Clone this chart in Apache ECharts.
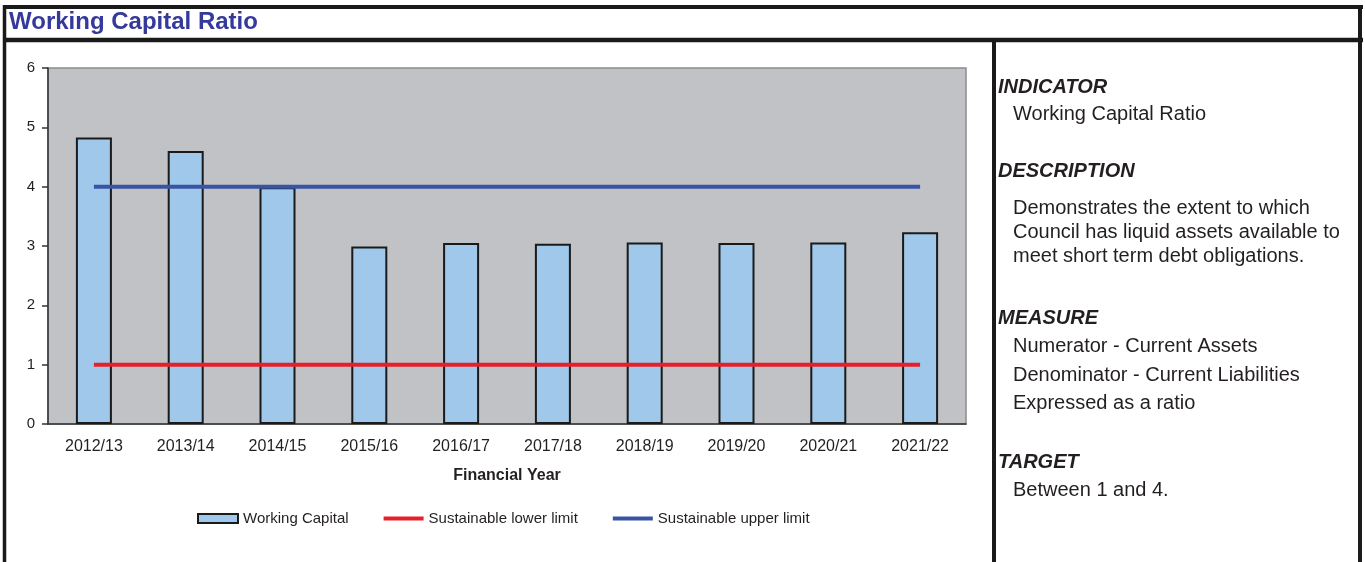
<!DOCTYPE html>
<html>
<head>
<meta charset="utf-8">
<script src="https://cdn.jsdelivr.net/npm/echarts@6/dist/echarts.min.js"></script>
<style>
html,body{margin:0;padding:0;background:#fff;}
#chart{width:1365px;height:562px;}
</style>
</head>
<body>
<div id="chart"></div>
<script>
const categories = ['2012/13','2013/14','2014/15','2015/16','2016/17','2017/18','2018/19','2019/20','2020/21','2021/22'];
const workingCapital = [4.83, 4.60, 3.99, 2.99, 3.05, 3.04, 3.06, 3.05, 3.06, 3.23];
const lowerLimit = [1,1,1,1,1,1,1,1,1,1];
const upperLimit = [4,4,4,4,4,4,4,4,4,4];
const yTicks = [0, 6, 1];
const panelHeadings = ['INDICATOR','DESCRIPTION','MEASURE','TARGET'];
const panelBodies = [
  ['Working Capital Ratio'],
  ['Demonstrates the extent to which','Council has liquid assets available to','meet short term debt obligations.'],
  ['Numerator - Current Assets','Denominator - Current Liabilities','Expressed as a ratio'],
  ['Between 1 and 4.']
];

const FONT = '"Liberation Sans", Arial, Helvetica, sans-serif';
const headY = [87, 171, 318, 462];
const bodyY = [[114],[208,232,256],[346,375,403],[490]];

const graphics = [];
const border = (x1,y1,x2,y2,w)=>({type:'line',shape:{x1,y1,x2,y2},style:{stroke:'#1a1a1a',lineWidth:w},z:100});
graphics.push(border(3,7,1363,7,4));
graphics.push(border(4.5,5,4.5,562,3.5));
graphics.push(border(3,40,1363,40,4.5));
graphics.push(border(994,40,994,562,4));
graphics.push(border(1360,5,1360,562,4));
panelHeadings.forEach((h,i)=>{
  graphics.push({type:'text',style:{x:998,y:headY[i],text:h,font:'italic bold 20px '+FONT,fill:'#231f20',textVerticalAlign:'middle'}});
  panelBodies[i].forEach((t,j)=>{
    graphics.push({type:'text',style:{x:1013,y:bodyY[i][j],text:t,font:'20px '+FONT,fill:'#231f20',textVerticalAlign:'middle'}});
  });
});

const chart = echarts.init(document.getElementById('chart'));
chart.setOption({
  backgroundColor:'#ffffff',
  animation:false,
  textStyle:{fontFamily:FONT},
  title:{text:'Working Capital Ratio',left:4,top:5,textStyle:{color:'#35399b',fontSize:24,fontWeight:'bold',fontFamily:FONT}},
  grid:{left:48,right:399,top:68,bottom:138,show:true,backgroundColor:'#c1c2c6',borderColor:'#8c8c8c',borderWidth:1.5},
  legend:{
    left:192, top:506, itemGap:33, itemWidth:40, itemHeight:9,
    textStyle:{fontSize:15,color:'#231f20',fontFamily:FONT},
    data:[
      {name:'Working Capital',icon:'rect'},
      {name:'Sustainable lower limit',itemStyle:{opacity:0},lineStyle:{width:4}},
      {name:'Sustainable upper limit',itemStyle:{opacity:0},lineStyle:{width:4}}
    ]
  },
  xAxis:{
    type:'category', data:categories,
    name:'Financial Year', nameLocation:'middle', nameGap:44,
    nameTextStyle:{fontSize:16,fontWeight:'bold',color:'#231f20'},
    axisLine:{lineStyle:{color:'#333',width:1.5}},
    axisTick:{length:5,lineStyle:{color:'#333',width:1.5}},
    axisLabel:{fontSize:16,color:'#231f20',margin:15}
  },
  yAxis:{
    type:'value', min:yTicks[0], max:yTicks[1], interval:yTicks[2],
    axisLine:{show:true,lineStyle:{color:'#333',width:1.5}},
    axisTick:{show:true,length:6,lineStyle:{color:'#333',width:1.5}},
    splitLine:{show:false},
    axisLabel:{fontSize:15,color:'#231f20',margin:13}
  },
  series:[
    {name:'Working Capital',type:'bar',data:workingCapital,barWidth:36,
     itemStyle:{color:'#9fc8eb',borderColor:'#1a1a1a',borderWidth:2}},
    {name:'Sustainable lower limit',type:'line',data:lowerLimit,symbol:'none',z:5,
     lineStyle:{color:'#e5202a',width:4},itemStyle:{color:'#e5202a'}},
    {name:'Sustainable upper limit',type:'line',data:upperLimit,symbol:'none',z:5,
     lineStyle:{color:'#3a54a4',width:4},itemStyle:{color:'#3a54a4'}}
  ],
  graphic:graphics
});
</script>
</body>
</html>
